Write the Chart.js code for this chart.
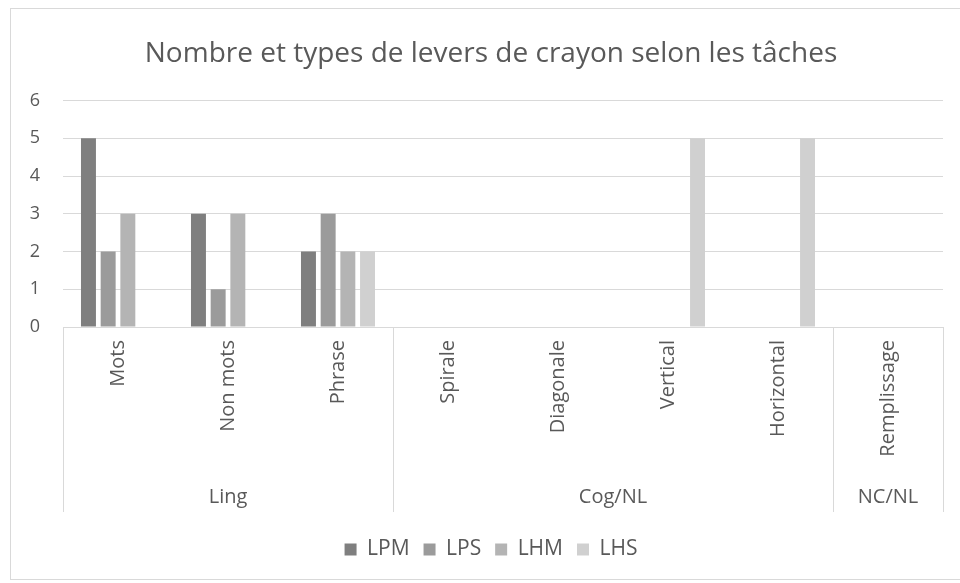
<!DOCTYPE html>
<html lang="fr">
<head>
<meta charset="UTF-8">
<title>Levers de crayon</title>
<script src="https://cdn.jsdelivr.net/npm/chart.js"></script>
<style>
  body { margin: 0; background: #fff; overflow: hidden; width: 960px; height: 583px; position: relative; }
  #frame { position: absolute; left: 10px; top: 8px; width: 960px; height: 570px; border: 1px solid #d9d9d9; }
</style>
</head>
<body>
<div id="frame"><canvas id="chart" width="960" height="570"></canvas></div>
<script>
// data
const categories = ['Mots', 'Non mots', 'Phrase', 'Spirale', 'Diagonale', 'Vertical', 'Horizontal', 'Remplissage'];
const groupNames = ['Ling', 'Cog/NL', 'NC/NL'];
const groupSizes = [3, 4, 1];
const seriesNames = ['LPM', 'LPS', 'LHM', 'LHS'];
const lpm = [5, 3, 2, 0, 0, 0, 0, 0];
const lps = [2, 1, 3, 0, 0, 0, 0, 0];
const lhm = [3, 3, 2, 0, 0, 0, 0, 0];
const lhs = [0, 0, 2, 0, 0, 5, 5, 0];
const yTicks = [0, 1, 2, 3, 4, 5, 6];

const colors = ['#7f7f7f', '#9b9b9b', '#b4b4b4', '#d0d0d0'];
const textColor = '#595959';
const lineColor = '#d9d9d9';
const font = "'Open Sans', sans-serif";

// second level of the category axis: dividers + group names
const groupAxis = {
    id: 'groupAxis',
    afterDraw(chart) {
        const x = chart.scales.x;
        const ctx = chart.ctx;
        const step = x.width / categories.length;
        const bottom = x.top + 185;
        ctx.save();
        ctx.strokeStyle = lineColor;
        ctx.lineWidth = 1;
        let idx = 0;
        const edges = [0];
        groupSizes.forEach(n => { idx += n; edges.push(idx); });
        edges.forEach(i => {
            const px = Math.round(x.left + i * step) + 0.5;
            ctx.beginPath();
            ctx.moveTo(px, x.top);
            ctx.lineTo(px, bottom);
            ctx.stroke();
        });
        ctx.fillStyle = textColor;
        ctx.font = "20px " + font;
        ctx.textAlign = 'center';
        ctx.textBaseline = 'middle';
        groupNames.forEach((name, g) => {
            const mid = x.left + (edges[g] + edges[g + 1]) / 2 * step;
            ctx.fillText(name, mid, x.top + 170);
        });
        ctx.restore();
    }
};

const seriesData = [lpm, lps, lhm, lhs];

new Chart(document.getElementById('chart'), {
    type: 'bar',
    data: {
        labels: categories,
        datasets: seriesNames.map((name, i) => ({
            label: name,
            data: seriesData[i],
            backgroundColor: colors[i],
            borderWidth: 0,
            categoryPercentage: 0.716,
            barPercentage: 0.76
        }))
    },
    options: {
        responsive: false,
        animation: false,
        layout: { padding: { left: 0, right: 0, top: 0, bottom: 9 } },
        scales: {
            x: {
                grid: { display: false },
                border: { display: true, color: lineColor },
                ticks: {
                    color: textColor,
                    font: { family: font, size: 20 },
                    minRotation: 90,
                    maxRotation: 90,
                    autoSkip: false,
                    padding: 5
                },
                afterFit(axis) { axis.height = 198; }
            },
            y: {
                min: 0,
                max: 6,
                border: { display: false },
                grid: { color: lineColor, drawTicks: false },
                ticks: {
                    color: textColor,
                    font: { family: font, size: 18 },
                    padding: 23,
                    callback: (v) => yTicks.includes(v) ? v : null,
                    stepSize: 1
                },
                afterFit(axis) { axis.width = 52; }
            },
            // empty right-hand strip so the title stays centred on the whole frame
            yRight: {
                position: 'right',
                min: 0,
                max: 6,
                grid: { display: false },
                border: { display: false },
                ticks: { display: false },
                afterFit(axis) { axis.width = 28; }
            }
        },
        plugins: {
            title: {
                display: true,
                text: 'Nombre et types de levers de crayon selon les tâches',
                color: textColor,
                font: { family: font, size: 28, weight: 'normal' },
                padding: { top: 28, bottom: 30 }
            },
            legend: {
                position: 'bottom',
                labels: {
                    color: textColor,
                    font: { family: font, size: 21 },
                    boxWidth: 12,
                    boxHeight: 12,
                    padding: 14
                }
            },
            tooltip: { enabled: false }
        }
    },
    plugins: [groupAxis]
});
</script>
</body>
</html>
